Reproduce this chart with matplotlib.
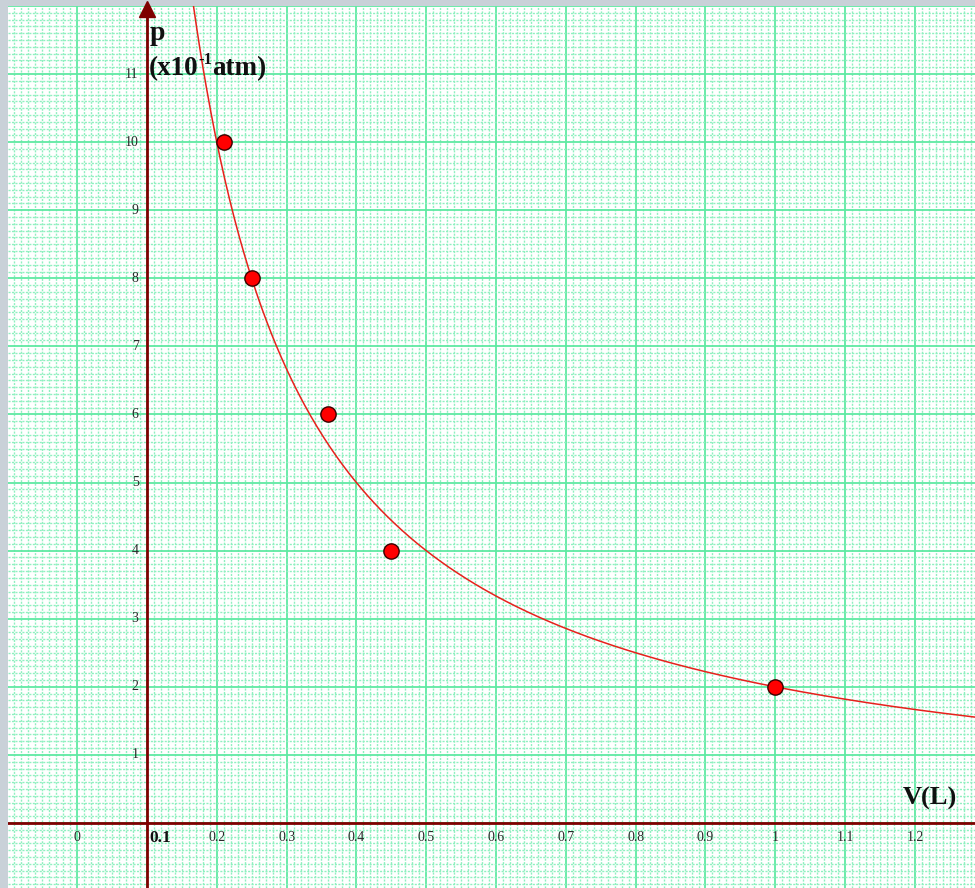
import numpy as np
import matplotlib.pyplot as plt
from matplotlib.ticker import MultipleLocator
from matplotlib.transforms import offset_copy

# Measured points: volume (L) and pressure (x10^-1 atm)
volume = [0.21, 0.25, 0.36, 0.45, 1.0]
pressure = [10, 8, 6, 4, 2]

# Isotherm constant p*V for the fitted curve
pv_const = 2.0

# Axis tick labels
x_tick_values = [0.0, 0.2, 0.3, 0.4, 0.5, 0.6, 0.7, 0.8, 0.9, 1.0, 1.1, 1.2]
x_tick_labels = ['0', '0.2', '0.3', '0.4', '0.5', '0.6', '0.7', '0.8', '0.9', '1', '1.1', '1.2']
y_tick_values = [1, 2, 3, 4, 5, 6, 7, 8, 9, 10, 11]
y_tick_labels = [str(v) for v in y_tick_values]

x_origin = 0.1  # the vertical axis crosses at V = 0.1

fig = plt.figure(figsize=(9.75, 8.88), dpi=100)
fig.patch.set_facecolor('#c9d1d8')
ax = fig.add_axes([8 / 975, 0, 967 / 975, 882 / 888])
ax.set_facecolor('white')

xmin, xmax = -0.099, 1.286
ymin, ymax = -0.955, 12.0
ax.set_xlim(xmin, xmax)
ax.set_ylim(ymin, ymax)

# graph-paper grid
ax.xaxis.set_major_locator(MultipleLocator(0.1))
ax.xaxis.set_minor_locator(MultipleLocator(0.01))
ax.yaxis.set_major_locator(MultipleLocator(1))
ax.yaxis.set_minor_locator(MultipleLocator(0.1))
ax.grid(which='minor', color='#8ff0c0', linestyle=(0, (1.5, 1)), linewidth=1.0)
ax.grid(which='major', color='#5fe9a3', linestyle='-', linewidth=1.3)
ax.set_axisbelow(True)
ax.tick_params(which='both', length=0, labelbottom=False, labelleft=False)
for s in ax.spines.values():
    s.set_visible(False)

# coordinate axes
axis_color = '#7f0000'
ax.axhline(0, color=axis_color, linewidth=2.0, zorder=3)
ax.axvline(x_origin, color=axis_color, linewidth=2.0, zorder=3)
ax.plot([x_origin], [ymax - 0.05], marker='^', markersize=11, color=axis_color,
        clip_on=False, zorder=4)

# fitted isotherm
v = np.linspace(pv_const / ymax, xmax, 500)
ax.plot(v, pv_const / v, color='#e8201c', linewidth=1.1, zorder=4)

# measured points
ax.plot(volume, pressure, linestyle='none', marker='o', markersize=11,
        markerfacecolor='#ff0000', markeredgecolor='#3a0000', markeredgewidth=1.0,
        zorder=5)

serif = 'Liberation Serif'
for xv, lab in zip(x_tick_values, x_tick_labels):
    ax.text(xv, -0.22, lab, ha='center', va='center', fontsize=10,
            family=serif, color='#2a2a2a', zorder=6)
ax.text(x_origin + 0.004, -0.22, '0.1', ha='left', va='center', fontsize=12.5,
        family=serif, fontweight='bold', color='#101010', zorder=6)
for yv, lab in zip(y_tick_values, y_tick_labels):
    ax.text(x_origin - 0.012, yv, lab, ha='right', va='center', fontsize=10,
            family=serif, color='#2a2a2a', zorder=6)

# axis titles
title_kw = dict(family=serif, fontweight='bold', color='#101010', zorder=6)
ax.text(x_origin + 0.004, 11.59, 'p', ha='left', va='center', fontsize=20, **title_kw)

# pressure unit label built from pieces so the exponent sits as a small raised text
fig.canvas.draw()
renderer = fig.canvas.get_renderer()
t1 = ax.text(x_origin + 0.002, 11.08, '(x10', ha='left', va='center', fontsize=19.5, **title_kw)
w1 = t1.get_window_extent(renderer).width * 72 / fig.dpi
t2 = ax.text(x_origin + 0.002, 11.08, '-1',
             transform=offset_copy(ax.transData, fig=fig, x=w1, y=6.5, units='points'),
             ha='left', va='center', fontsize=12, **title_kw)
w2 = t2.get_window_extent(renderer).width * 72 / fig.dpi
ax.text(x_origin + 0.002, 11.08, 'atm)',
        transform=offset_copy(ax.transData, fig=fig, x=w1 + w2, y=0, units='points'),
        ha='left', va='center', fontsize=19.5, **title_kw)

ax.text(1.222, 0.36, 'V(L)', ha='center', va='center', fontsize=19, **title_kw)

fig.savefig('out.png', dpi=100, facecolor=fig.get_facecolor())
